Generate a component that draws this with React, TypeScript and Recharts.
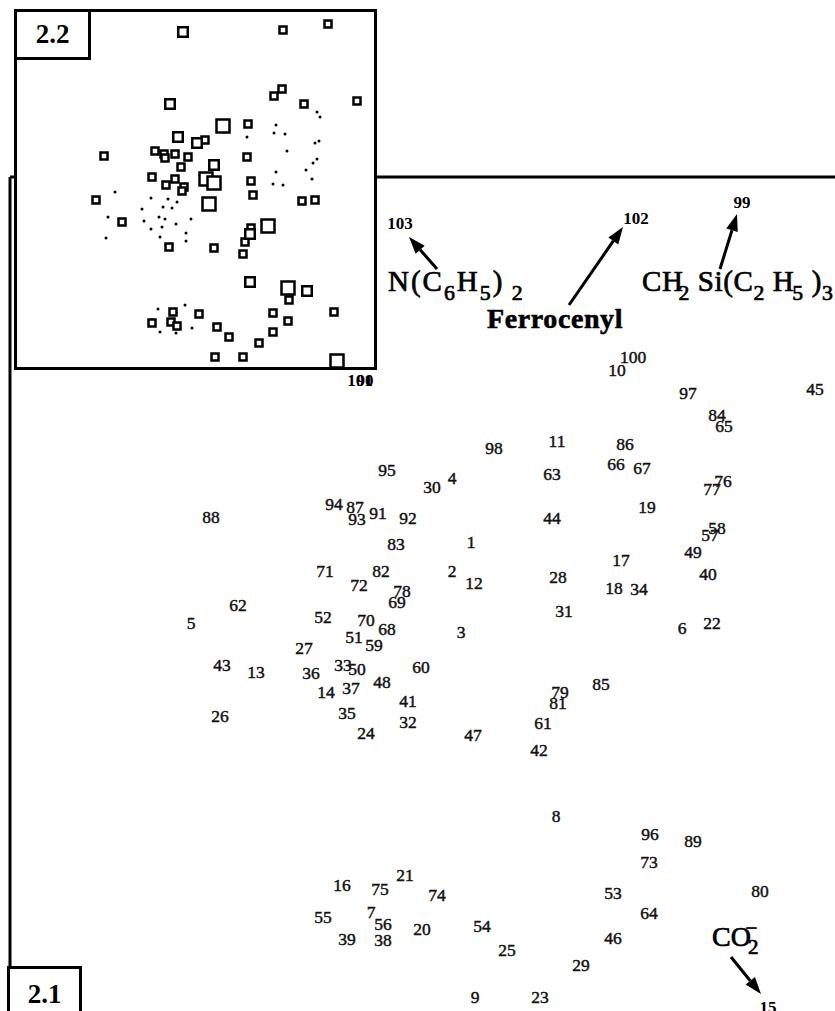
import React from "react";
import { ScatterChart, Scatter, XAxis, YAxis, ReferenceLine, ReferenceDot } from "recharts";

const SERIF = '"Liberation Serif", "Times New Roman", serif';

// plot 2.1 — compound number, score 1, score 2
const compounds: [string, number, number][] = [
  ["100", 62.3, 72.0], ["10", 60.7, 70.7], ["97", 67.8, 68.4], ["45", 80.5, 68.8],
  ["84", 70.7, 66.2], ["65", 71.4, 65.1], ["98", 48.4, 62.9], ["11", 54.7, 63.6],
  ["86", 61.5, 63.3], ["95", 37.7, 60.7], ["63", 54.2, 60.3], ["66", 60.6, 61.3],
  ["67", 63.2, 60.9], ["30", 42.2, 59.0], ["4", 44.2, 59.9], ["77", 70.2, 58.8],
  ["76", 71.3, 59.6], ["88", 20.1, 56.0], ["94", 32.4, 57.3], ["87", 34.5, 57.0],
  ["93", 34.7, 55.8], ["91", 36.8, 56.4], ["92", 39.8, 55.9], ["44", 54.2, 55.9],
  ["19", 63.7, 57.0], ["58", 70.7, 54.9], ["57", 70.0, 54.2], ["83", 38.6, 53.3],
  ["1", 46.1, 53.5], ["49", 68.3, 52.5], ["17", 61.1, 51.7], ["71", 31.5, 50.6],
  ["82", 37.1, 50.6], ["72", 34.9, 49.2], ["2", 44.2, 50.6], ["12", 46.4, 49.4],
  ["28", 54.8, 50.0], ["18", 60.4, 48.9], ["34", 62.9, 48.8], ["40", 69.8, 50.3],
  ["78", 39.2, 48.6], ["69", 38.7, 47.5], ["62", 22.8, 47.2], ["31", 55.4, 46.6],
  ["5", 18.1, 45.4], ["52", 31.3, 46.0], ["70", 35.6, 45.7], ["68", 37.7, 44.8],
  ["3", 45.1, 44.5], ["6", 67.2, 44.9], ["22", 70.2, 45.4], ["51", 34.4, 44.0],
  ["59", 36.4, 43.2], ["27", 29.4, 42.9], ["43", 21.2, 41.2], ["13", 24.6, 40.5],
  ["36", 30.1, 40.4], ["33", 33.3, 41.2], ["50", 34.7, 40.8], ["60", 41.1, 41.0],
  ["48", 37.2, 39.5], ["37", 34.1, 38.9], ["14", 31.6, 38.5], ["85", 59.1, 39.3],
  ["79", 55.0, 38.5], ["81", 54.8, 37.4], ["41", 39.8, 37.6], ["26", 21.0, 36.1],
  ["35", 33.7, 36.4], ["32", 39.8, 35.5], ["24", 35.6, 34.4], ["47", 46.3, 34.2],
  ["61", 53.3, 35.4], ["42", 52.9, 32.7], ["8", 54.6, 26.1], ["96", 64.0, 24.3],
  ["89", 68.3, 23.6], ["73", 63.9, 21.5], ["16", 33.2, 19.2], ["75", 37.0, 18.8],
  ["21", 39.5, 20.2], ["74", 42.7, 18.2], ["80", 75.0, 18.6], ["53", 60.3, 18.4],
  ["64", 63.9, 16.4], ["55", 31.3, 16.0], ["7", 36.1, 16.5], ["56", 37.3, 15.3],
  ["20", 41.2, 14.8], ["54", 47.2, 15.1], ["39", 33.7, 13.8], ["38", 37.3, 13.7],
  ["25", 49.7, 12.7], ["46", 60.3, 13.9], ["29", 57.1, 11.2], ["9", 46.5, 8.0],
  ["23", 53.0, 8.0],
]

// the outliers, printed in bold
const outliers: [string, number, number][] = [
  ["103", 39.0, 85.4], ["102", 62.6, 85.9], ["99", 73.2, 87.5], ["15", 75.8, 7.0],
  ["101", 35.0, 69.7], ["90", 35.5, 69.7],
]

// plot 2.2 (inset)
const smallSquares: [number, number][] = [
  [26.8, 34.0], [31.3, 34.6], [25.9, 27.4], [26.7, 28.1], [28.9, 26.6], [34.2, 26.9],
  [23.3, 24.6], [19.0, 23.0], [14.9, 21.6], [15.0, 21.2], [16.0, 21.6], [17.3, 21.3],
  [23.2, 21.3], [8.9, 21.4], [14.0, 21.9], [16.6, 20.3], [13.7, 19.3], [16.0, 19.1],
  [23.6, 18.9], [15.1, 18.5], [16.9, 18.3], [16.7, 17.9], [8.1, 17.0], [23.8, 17.5],
  [28.7, 16.9], [30.0, 17.0], [10.7, 14.8], [23.6, 14.2], [23.0, 12.8], [15.4, 12.3],
  [19.9, 12.2], [22.8, 11.6], [27.4, 7.0], [31.9, 5.8], [15.8, 5.8], [18.4, 5.6],
  [25.8, 5.7], [27.3, 4.9], [13.7, 4.7], [15.6, 4.8], [16.2, 4.4], [20.2, 4.3],
  [25.8, 3.8], [21.4, 3.3], [24.4, 2.7], [20.0, 1.3], [22.8, 1.3],
]
const mediumSquares: [number, number][] = [
  [16.8, 33.8], [15.5, 26.6], [16.3, 23.3], [18.2, 22.7], [19.9, 20.5], [23.5, 13.6],
  [23.5, 8.8], [29.2, 7.9],
]
const bigSquares: [number, number][] = [
  [20.8, 24.4], [19.1, 19.1], [19.9, 18.7], [19.4, 16.6], [25.3, 14.4], [27.3, 8.2],
  [32.2, 0.9],
]
const dots: [number, number][] = [
  [30.2, 25.8], [30.5, 25.3], [26.1, 24.5], [25.9, 23.7], [27.0, 23.6], [23.2, 23.3],
  [30.0, 22.7], [30.4, 22.9], [27.2, 21.9], [30.2, 21.1], [29.8, 20.7], [29.1, 20.0],
  [26.1, 19.8], [29.7, 19.1], [25.8, 18.6], [26.8, 18.5], [10.0, 17.8], [13.6, 17.2],
  [15.3, 17.1], [16.2, 16.8], [14.8, 16.3], [15.7, 16.2], [12.7, 16.1], [9.3, 15.3],
  [12.9, 14.9], [14.4, 15.3], [15.0, 15.1], [17.6, 15.1], [16.1, 14.6], [14.7, 14.3],
  [13.6, 14.1], [17.1, 13.7], [9.1, 13.2], [14.5, 13.3], [17.1, 12.9], [14.3, 6.1],
  [17.0, 6.5], [17.7, 4.2], [14.5, 3.8], [16.1, 3.7],
]

type Part = [string, "" | "sub" | "sup", number?]

const annotations: { x: number; y: number; size: number; bold?: boolean; spacing: number; parts: Part[] }[] = [
  { x: 37.8, y: 78.6, size: 29, spacing: 2, parts: [["N(C", ""], ["6", "sub"], ["H", ""], ["5", "sub"], [")", ""], [" 2", "sub"]] },
  { x: 47.7, y: 74.9, size: 28, bold: true, spacing: 0.6, parts: [["Ferrocenyl", ""]] },
  { x: 63.2, y: 78.6, size: 29, spacing: 0.6, parts: [["CH", ""], ["2", "sub", -5], [" Si(C", ""], ["2", "sub"], [" H", ""], ["5", "sub", -2], [" )", ""], ["3", "sub"]] },
  { x: 70.2, y: 13.1, size: 28, spacing: 0, parts: [["CO", ""], ["2", "sub", -3], ["\u2212", "sup", -13]] },
]

const arrows: [number, number, number, number][] = [
  [42.7, 80.8, 39.9, 84.0],
  [55.9, 77.2, 61.3, 85.0],
  [71.0, 80.8, 72.7, 86.3],
  [72.1, 12.0, 75.1, 8.3],
]

const mainData = compounds.map(([label, x, y]) => ({ label, x, y }))
const outlierData = outliers.map(([label, x, y]) => ({ label, x, y }))
const pts = (arr: [number, number][]) => arr.map(([x, y]) => ({ x, y }))

const NumLabel = (p: any) => (
  <text x={p.cx} y={p.cy} textAnchor="middle" dominantBaseline="central"
    fontFamily={SERIF} fontSize={17.5} fill="#111" stroke="#111" strokeWidth={0.45}>
    {p.payload.label}
  </text>
)

const BoldLabel = (p: any) => (
  <text x={p.cx} y={p.cy} textAnchor="middle" dominantBaseline="central"
    fontFamily={SERIF} fontSize={17} fontWeight="bold" fill="#000">
    {p.payload.label}
  </text>
)

const square = (s: number) => (p: any) => (
  <rect x={p.cx - s / 2} y={p.cy - s / 2} width={s} height={s}
    fill="#fff" stroke="#000" strokeWidth={2.5} />
)
const Dot = (p: any) => <circle cx={p.cx} cy={p.cy} r={1.5} fill="#000" />

const Arrow = (p: any) => {
  const { x1, y1, x2, y2 } = p
  const a = Math.atan2(y2 - y1, x2 - x1)
  const L = 17, W = 6
  const bx = x2 - L * Math.cos(a), by = y2 - L * Math.sin(a)
  const nx = -Math.sin(a) * W, ny = Math.cos(a) * W
  return (
    <g>
      <line x1={x1} y1={y1} x2={bx} y2={by} stroke="#000" strokeWidth={3} />
      <polygon points={`${x2},${y2} ${bx + nx},${by + ny} ${bx - nx},${by - ny}`} fill="#000" />
    </g>
  )
}

function Chem({ cx, cy, size, bold, spacing, parts }: any) {
  let cur = 0
  return (
    <text x={cx} y={cy} fontFamily={SERIF} fontSize={size} fontWeight={bold ? "bold" : "normal"}
      fill="#000" stroke="#000" strokeWidth={bold ? 0.6 : 0.7} letterSpacing={spacing}>
      {parts.map(([t, k, dx]: Part, i: number) => {
        const off = k === "sub" ? size * 0.3 : k === "sup" ? -size * 0.38 : 0
        const dy = off - cur
        cur = off
        return (
          <tspan key={i} dy={dy} dx={dx ?? 0} fontSize={k ? size * 0.75 : size}>{t}</tspan>
        )
      })}
    </text>
  )
}

const boxLabel: React.CSSProperties = {
  position: "absolute", boxSizing: "border-box", border: "3px solid #000", background: "#fff",
  display: "flex", alignItems: "center", justifyContent: "center",
  fontFamily: SERIF, fontWeight: "bold", fontSize: 27, color: "#000",
}

export default function App() {
  return (
    <div style={{ position: "fixed", left: 0, top: 0, width: 835, height: 1011, overflow: "hidden", background: "#fff" }}>
      <div style={{ position: "absolute", left: 0, top: 0 }}>
        <ScatterChart width={910} height={1077} margin={{ top: 177, left: 10, right: 0, bottom: 0 }}>
          <XAxis type="number" dataKey="x" domain={[0, 90]} allowDataOverflow hide />
          <YAxis type="number" dataKey="y" domain={[0, 90]} allowDataOverflow hide />
          <ReferenceLine x={0} stroke="#000" strokeWidth={3} />
          <ReferenceLine y={90} stroke="#000" strokeWidth={3} />
          {arrows.map(([xa, ya, xb, yb], i) => (
            <ReferenceLine key={i} segment={[{ x: xa, y: ya }, { x: xb, y: yb }]} shape={Arrow} />
          ))}
          {annotations.map((a, i) => (
            <ReferenceDot key={i} x={a.x} y={a.y} r={0}
              shape={(p: any) => <Chem cx={p.cx} cy={p.cy} size={a.size} bold={a.bold} spacing={a.spacing} parts={a.parts} />} />
          ))}
          <Scatter data={mainData} shape={NumLabel} isAnimationActive={false} />
          <Scatter data={outlierData} shape={BoldLabel} isAnimationActive={false} />
        </ScatterChart>
      </div>

      {/* inset 2.2 */}
      <div style={{ position: "absolute", left: 15, top: 10, width: 361, height: 360, background: "#fff" }}>
        <ScatterChart width={361} height={360} margin={{ top: 0, left: 0, right: 0, bottom: 0 }}>
          <XAxis type="number" dataKey="x" domain={[0, 36.1]} allowDataOverflow hide />
          <YAxis type="number" dataKey="y" domain={[0, 36]} allowDataOverflow hide />
          <Scatter data={pts(dots)} shape={Dot} isAnimationActive={false} />
          <Scatter data={pts(smallSquares)} shape={square(7)} isAnimationActive={false} />
          <Scatter data={pts(mediumSquares)} shape={square(9.5)} isAnimationActive={false} />
          <Scatter data={pts(bigSquares)} shape={square(13)} isAnimationActive={false} />
        </ScatterChart>
      </div>
      <div style={{ position: "absolute", left: 14, top: 9, width: 363, height: 361, boxSizing: "border-box", border: "3px solid #000" }} />
      <div style={{ ...boxLabel, left: 14, top: 9, width: 77, height: 51 }}>2.2</div>
      <div style={{ ...boxLabel, left: 7, top: 966, width: 75, height: 60, alignItems: "flex-start", paddingTop: 10 }}>2.1</div>
    </div>
  )
}
